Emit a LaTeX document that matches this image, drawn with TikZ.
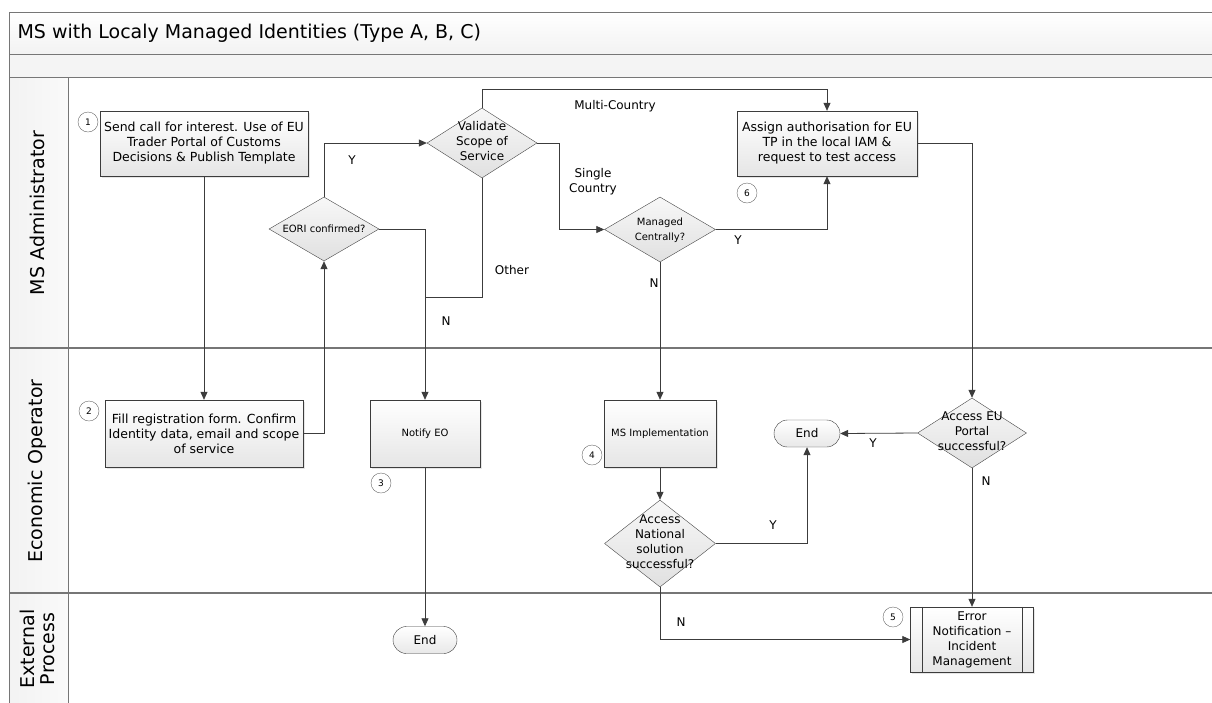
\documentclass[tikz,border=0pt]{standalone}
\usepackage{fontspec}
\setmainfont{DejaVu Sans}
\usetikzlibrary{shapes.geometric,shapes.misc,shadows,arrows.meta}

\definecolor{lineclr}{HTML}{3C3C3C}
\definecolor{frameclr}{HTML}{767676}

% text of a decision that may run over the diamond
\newcommand{\dtxt}[1]{\raisebox{-5.5pt}{\smash{\makebox[0pt]{\begin{tabular}{@{}c@{}}#1\end{tabular}}}}}

\begin{document}
\begin{tikzpicture}[
        x=1pt, y=-1pt,
        >={Triangle[length=8pt,width=7pt]},
        taskbox/.style={draw=lineclr, top color=white, bottom color=gray!20, align=center, inner sep=2pt,
                        drop shadow={shadow xshift=1.5pt, shadow yshift=-1.5pt, opacity=0.2},
                        font=\fontsize{12.5}{15}\selectfont},
        smalltxt/.style={font=\fontsize{10}{15}\selectfont},
        decision/.style={diamond, draw=gray!55!black, top color=gray!6, bottom color=gray!24, inner sep=0pt,
                         font=\fontsize{12}{15}\selectfont},
        stopnode/.style={rounded rectangle, draw=lineclr, top color=white, bottom color=gray!18,
                         minimum width=64pt, minimum height=27pt, inner sep=0pt, font=\fontsize{12}{14}\selectfont},
        stepnum/.style={circle, draw=gray!80!black, fill=white, minimum size=20pt, inner sep=0pt,
                        font=\fontsize{9}{10}\selectfont},
        flow/.style={draw=lineclr, line width=0.8pt},
        lbl/.style={inner sep=0pt, align=center, font=\fontsize{12}{15}\selectfont},
        lanelbl/.style={rotate=90, align=center, font=\fontsize{19}{20}\selectfont}
      ]
        \useasboundingbox (0,0) rectangle (1212,702);

        % pool and lanes
        \shade [top color=white, bottom color=gray!10] (9,12) rectangle (1213,54.5);
        \fill [gray!9] (9,54.5) rectangle (1213,77);
        \shade [left color=gray!10, right color=gray!4] (9,77) rectangle (68,703);
        \draw [frameclr, line width=0.9pt] (1213,12) -- (9,12) -- (9,703);
        \draw [frameclr, line width=0.9pt] (9,54.5) -- (1213,54.5);
        \draw [frameclr, line width=0.9pt] (9,77) -- (1213,77);
        \draw [frameclr, line width=0.9pt] (68,77) -- (68,703);
        \draw [frameclr, line width=1.1pt] (9,348) -- (1213,348);
        \draw [frameclr, line width=1.1pt] (9,593) -- (1213,593);

        \node (title) at (14,33) [anchor=west, font=\fontsize{19}{21}\selectfont] {MS with Localy Managed Identities (Type A, B, C)};
        \node (laneadm) at (37,213) [lanelbl] {MS Administrator};
        \node (laneeo) at (37,471) [lanelbl] {Economic Operator};
        \node (laneext) at (37,649) [lanelbl] {External\\Process};

        % tasks
        \node (send) at (204,143.5) [taskbox, minimum width=208pt, minimum height=65pt] {Send call for interest. Use of EU\\Trader Portal of Customs\\Decisions \& Publish Template};
        \node (fill) at (204,433.5) [taskbox, minimum width=198pt, minimum height=67pt] {Fill registration form. Confirm\\Identity data, email and scope\\of service};
        \node (notify) at (425,433.5) [taskbox, smalltxt, minimum width=110pt, minimum height=67pt] {Notify EO};
        \node (msimpl) at (660,433.5) [taskbox, smalltxt, minimum width=112pt, minimum height=67pt] {MS Implementation};
        \node (assign) at (827,143.5) [taskbox, minimum width=180pt, minimum height=65pt] {Assign authorisation for EU\\TP in the local IAM \&\\request to test access};
        \node (error) at (972,639.5) [taskbox, minimum width=123pt, minimum height=65pt, font=\fontsize{12}{15}\selectfont] {Error\\Notification --\\Incident\\Management};
        \draw [lineclr] ([xshift=12pt]error.north west) -- ([xshift=12pt]error.south west);
        \draw [lineclr] ([xshift=-12pt]error.north east) -- ([xshift=-12pt]error.south east);

        % decisions
        \node (eori) at (324,229) [decision, minimum width=110pt, minimum height=64pt, smalltxt] {\dtxt{EORI confirmed?}};
        \node (val) at (482,143) [decision, minimum width=110pt, minimum height=70pt] {\dtxt{Validate\\Scope of\\Service}};
        \node (mc) at (660,229.5) [decision, minimum width=111pt, minimum height=65pt, smalltxt] {\dtxt{Managed\\Centrally?}};
        \node (anat) at (660,543.5) [decision, minimum width=111pt, minimum height=87pt] {\dtxt{Access\\National\\solution\\successful?}};
        \node (aeu) at (972,433) [decision, minimum width=109pt, minimum height=70pt] {\dtxt{Access EU\\Portal\\successful?}};

        % ends
        \node (endeo) at (425,640) [stopnode] {End};
        \node (endok) at (807,433.5) [stopnode, minimum width=66pt] {End};

        % step numbers
        \node (s1) at (88,122) [stepnum] {1};
        \node (s2) at (89,411) [stepnum] {2};
        \node (s3) at (381,483) [stepnum] {3};
        \node (s4) at (592,455) [stepnum] {4};
        \node (s5) at (893,617) [stepnum] {5};
        \node (s6) at (747,193) [stepnum] {6};

        \coordinate (mcturn) at (482,89.5);
        \coordinate (scturn) at (559,143);
        \coordinate (otherjoin) at (425,297);

        \draw [flow, ->] (send) -- (fill);
        \draw [flow, ->] (fill.east) -| (eori.south);
        \draw [flow, ->] (eori.north) |- (val.west);
        \draw [flow, ->] (eori.east) -| (notify.north);
        \draw [flow] (val.south) |- (otherjoin);
        \draw [flow, ->] (val.north) -- (mcturn) -| (assign.north);
        \draw [flow, ->] (val.east) -- (scturn) |- (mc.west);
        \draw [flow, ->] (mc.east) -| (assign.south);
        \draw [flow, ->] (mc.south) -- (msimpl.north);
        \draw [flow, ->] (assign.east) -| (aeu.north);
        \draw [flow, ->] (notify.south) -- (endeo.north);
        \draw [flow, ->] (msimpl.south) -- (anat.north);
        \draw [flow, ->] (anat.east) -| (endok.south);
        \draw [flow, ->] (aeu.west) -- (endok.east);
        \draw [flow, ->] (aeu.south) -- (error.north);
        \draw [flow, ->] (anat.south) |- (error.west);

        % branch labels
        \node (ly1) at (352,160) [lbl] {Y};
        \node (lmulti) at (615,106) [lbl] {Multi-Country};
        \node (lsingle) at (593,182) [lbl] {Single\\Country};
        \node (lother) at (512,270) [lbl] {Other};
        \node (ln1) at (446,321) [lbl] {N};
        \node (ly2) at (738,240) [lbl] {Y};
        \node (ln2) at (654,283) [lbl] {N};
        \node (ly3) at (773,525) [lbl] {Y};
        \node (ly4) at (873,443) [lbl] {Y};
        \node (ln3) at (986,481) [lbl] {N};
        \node (ln4) at (681,622) [lbl] {N};
      \end{tikzpicture}
\end{document}
